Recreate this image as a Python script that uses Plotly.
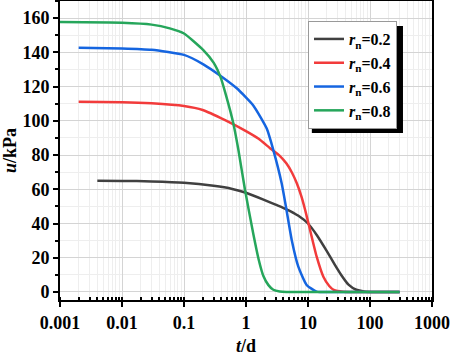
import plotly.graph_objects as go

# ---- data ----
t_02 = [0.004, 0.01, 0.03, 0.1, 0.3, 0.6, 1, 2, 3, 4.5, 7, 10, 14, 20, 27, 35, 45, 60, 80, 120, 300]
u_02 = [65, 64.9, 64.6, 63.8, 62, 60.2, 58, 53.7, 51, 48.3, 44.5, 40, 33, 24, 16, 9.5, 4.3, 1.3, 0.3, 0, 0]

t_04 = [0.002, 0.01, 0.03, 0.1, 0.2, 0.46, 1, 1.6, 2.44, 3.5, 4.5, 5.5, 6.6, 7.8, 9, 10.8, 13.8, 17.7, 22, 26, 37, 60, 300]
u_04 = [111.1, 110.9, 110.2, 108.6, 106.3, 100.4, 94, 89.5, 84, 79.5, 75, 69.8, 63.5, 56, 47.9, 36.2, 20.6, 8.9, 3.5, 1.2, 0.1, 0, 0]

t_06 = [0.002, 0.01, 0.03, 0.1, 0.205, 0.38, 0.71, 1.31, 2.16, 2.76, 3.76, 4.5, 5.46, 6.98, 9.5, 13.8, 30, 300]
u_06 = [142.7, 142.3, 141.5, 138.5, 133, 126.5, 119, 109, 95.5, 82.9, 63.5, 47.9, 30.4, 14.8, 4.1, 0.2, 0, 0]

t_08 = [0.001, 0.01, 0.03, 0.059, 0.1, 0.205, 0.3, 0.39, 0.475, 0.62, 0.75, 0.96, 1.31, 1.6, 1.9, 2.3, 2.76, 3.5, 4.5, 10, 300]
u_08 = [157.7, 157.3, 156.2, 154, 151, 141.3, 134, 125.4, 115, 99, 83.5, 60, 34, 19, 9.5, 4, 1.3, 0.3, 0, 0, 0]

names = ["<i>r</i><sub>n</sub>=0.2", "<i>r</i><sub>n</sub>=0.4",
         "<i>r</i><sub>n</sub>=0.6", "<i>r</i><sub>n</sub>=0.8"]
colors = ["#404040", "#f23b3b", "#1565e0", "#26a65b"]

x_tickvals = [0.001, 0.01, 0.1, 1, 10, 100, 1000]
x_ticktext = ["0.001", "0.01", "0.1", "1", "10", "100", "1000"]

FONT = "Liberation Serif, Times New Roman, Times, serif"

fig = go.Figure()
for t, u, n, c in zip([t_02, t_04, t_06, t_08], [u_02, u_04, u_06, u_08], names, colors):
    fig.add_trace(go.Scatter(x=t, y=u, mode="lines", name=n,
                             line=dict(color=c, width=2.5, shape="spline", smoothing=0.5)))

# legend shadow
fig.add_shape(type="rect", xref="paper", yref="paper",
              x0=0.677, x1=0.922, y0=0.5585, y1=0.916,
              fillcolor="black", line=dict(width=0), layer="above")

fig.update_layout(
    width=450, height=356,
    margin=dict(l=60, r=18, t=1, b=56, autoexpand=False),
    paper_bgcolor="white", plot_bgcolor="white",
    font=dict(family=FONT, size=18, color="black", weight="bold"),
    showlegend=True,
    legend=dict(x=0.6667, y=0.933, xanchor="left", yanchor="top",
                bgcolor="white", bordercolor="#999999", borderwidth=1,
                font=dict(family=FONT, size=16, color="black", weight="bold"),
                tracegroupgap=0, itemwidth=30),
)

fig.update_xaxes(
    type="log", range=[-3, 3],
    tickmode="array", tickvals=x_tickvals, ticktext=x_ticktext,
    ticks="outside", ticklen=5, tickwidth=1.5, tickcolor="black",
    showline=True, linecolor="black", linewidth=2, mirror=True,
    showgrid=True, gridcolor="#d4d4d4", gridwidth=1,
    zeroline=False,
    minor=dict(dtick="D1", ticks="inside", ticklen=3, tickcolor="black",
               showgrid=True, gridcolor="#eeeeee", gridwidth=1),
    title=dict(text="<i>t</i>/d", font=dict(family=FONT, size=18, weight="bold"), standoff=8),
    tickfont=dict(family=FONT, size=18, weight="bold"),
)
fig.update_yaxes(
    range=[-4.7, 170], dtick=20, tick0=0,
    ticks="outside", ticklen=5, tickwidth=1.5, tickcolor="black",
    showline=True, linecolor="black", linewidth=2, mirror=True,
    showgrid=True, gridcolor="#d4d4d4", gridwidth=1,
    zeroline=False,
    minor=dict(dtick=10, ticks="outside", ticklen=3, tickcolor="black",
               showgrid=True, gridcolor="#eeeeee", gridwidth=1),
    title=dict(text="<i>u</i>/kPa", font=dict(family=FONT, size=18, weight="bold"), standoff=6),
    tickfont=dict(family=FONT, size=18, weight="bold"),
)

fig.write_html("out.html", config={"displayModeBar": False},
               post_script="document.body.style.margin='0';")
